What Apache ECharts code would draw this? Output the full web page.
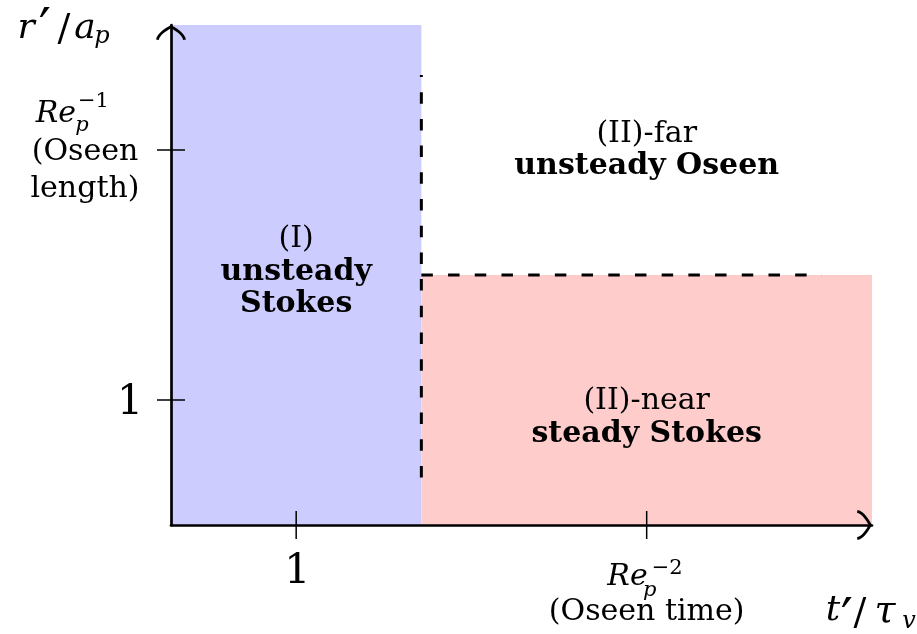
<!DOCTYPE html>
<html>
<head>
<meta charset="utf-8">
<script src="https://cdn.jsdelivr.net/npm/echarts@6/dist/echarts.min.js"></script>
<style>
  html, body { margin: 0; padding: 0; background: #fff; }
  #chart { width: 917px; height: 634px; }
</style>
</head>
<body>
<div id="chart"></div>
<script>
// Regime map of the flow around a particle: time t'/tau_v against distance r'/a_p.

// Axis extents (schematic units)
const timeMax = 5.6;
const distMax = 4;

// Tick values and their labels
const xTickValues = [1, 3.8];
const yTickValues = [1, 3];

// Shaded regimes: time range [t0, t1] and distance range [r0, r1]
const regionNames = ['(I)', '(II)-near'];
const regionT0 = [0, 2];
const regionT1 = [2, 5.6];
const regionR0 = [0, 0];
const regionR1 = [4, 2];

// Dashed boundaries between regimes
const boundaryVertical = [[2, 0.38], [2, 3.6]];
const boundaryHorizontal = [[2, 2], [5.2, 2]];

// Regime captions: title line, bold description lines, anchor in data space
const captionTitles = ['(I)', '(II)-far', '(II)-near'];
const captionLines = [['unsteady', 'Stokes'], ['unsteady Oseen'], ['steady Stokes']];
const captionT = [1, 3.8, 3.8];
const captionR = [2.284, 3.128, 0.988];

// ---- styling ----
const regionColors = ['#ccccff', '#ffcccc'];
const SERIF = '"DejaVu Serif", serif';
// open, slightly curved arrow head pointing up (rotated by the axis)
const ARROW = 'path://M60 0 C40 12 6 30 0 58 L11 60 C16 38 42 24 60 13 C78 24 104 38 109 60 L120 58 C114 30 80 12 60 0 Z';

function txt(x, y, text, size, o) {
  o = o || {};
  return {
    type: 'text',
    x: x, y: y,
    style: {
      text: text,
      fontFamily: SERIF,
      fontSize: size,
      fontWeight: o.bold ? 'bold' : 'normal',
      fontStyle: o.italic ? 'italic' : 'normal',
      fill: '#000',
      align: o.align || 'center',
      verticalAlign: 'middle'
    }
  };
}

const axisCommon = {
  type: 'value',
  z: 10,
  splitLine: { show: false },
  axisTick: { show: false },
  axisLabel: { show: false },
  axisLine: {
    show: true,
    symbol: ['none', ARROW],
    symbolSize: [30, 15],
    symbolOffset: [0, -7.5],
    lineStyle: { color: '#000', width: 2.7 }
  }
};

const dashStyle = { color: '#000', width: 3, type: [11.5, 15.2], cap: 'butt' };

const chart = echarts.init(document.getElementById('chart'), null, { renderer: 'canvas' });

chart.setOption({
  backgroundColor: '#fff',
  animation: false,
  grid: { left: 171, top: 25, width: 701, height: 500, containLabel: false },
  xAxis: Object.assign({}, axisCommon, { min: 0, max: timeMax }),
  yAxis: Object.assign({}, axisCommon, { min: 0, max: distMax }),
  series: [
    {
      // shaded regimes
      type: 'custom',
      z: 1,
      silent: true,
      clip: false,
      data: regionNames.map((n, i) => [regionT0[i], regionT1[i], regionR0[i], regionR1[i]]),
      renderItem: function (params, api) {
        const p0 = api.coord([api.value(0), api.value(3)]);
        const p1 = api.coord([api.value(1), api.value(2)]);
        return {
          type: 'rect',
          shape: { x: p0[0], y: p0[1], width: p1[0] - p0[0], height: p1[1] - p0[1] },
          style: { fill: regionColors[params.dataIndex] }
        };
      }
    },
    {
      type: 'line', z: 3, silent: true, symbol: 'none',
      data: boundaryVertical, lineStyle: dashStyle
    },
    {
      type: 'line', z: 3, silent: true, symbol: 'none',
      data: boundaryHorizontal, lineStyle: dashStyle
    },
    {
      // tick marks crossing both axes
      type: 'custom',
      z: 12,
      silent: true,
      clip: false,
      data: xTickValues.map(v => [v, 0]).concat(yTickValues.map(v => [v, 1])),
      renderItem: function (params, api) {
        const v = api.value(0);
        const isY = api.value(1) === 1;
        const p = isY ? api.coord([0, v]) : api.coord([v, 0]);
        const L = 14;
        const shape = isY
          ? { x1: p[0] - L, y1: p[1], x2: p[0] + L, y2: p[1] }
          : { x1: p[0], y1: p[1] - L, x2: p[0], y2: p[1] + L };
        return { type: 'line', shape: shape, style: { stroke: '#000', lineWidth: 1.5 } };
      }
    },
    {
      // tick labels, axis names and regime captions
      type: 'custom',
      z: 15,
      silent: true,
      clip: false,
      data: [[0, 0]],
      renderItem: function (params, api) {
        const kids = [];
        // y ticks
        let a = api.coord([0, yTickValues[0]]);
        kids.push(txt(a[0] - 41, a[1] + 3, '1', 41));
        a = api.coord([0, yTickValues[1]]);
        kids.push(txt(a[0] - 95, a[1] - 36, 'Re', 30, { italic: true, align: 'right' }));
        kids.push(txt(a[0] - 89, a[1] - 24, 'p', 21, { italic: true }));
        kids.push(txt(a[0] - 93, a[1] - 48, '\u22121', 21, { align: 'left' }));
        kids.push(txt(a[0] - 86, a[1] + 2, '(Oseen', 30));
        kids.push(txt(a[0] - 86, a[1] + 39, 'length)', 30));
        // x ticks
        a = api.coord([xTickValues[0], 0]);
        kids.push(txt(a[0] + 1, a[1] + 47, '1', 41));
        a = api.coord([xTickValues[1], 0]);
        kids.push(txt(a[0] + 1, a[1] + 52, 'Re', 30, { italic: true, align: 'right' }));
        kids.push(txt(a[0] + 3, a[1] + 66, 'p', 21, { italic: true }));
        kids.push(txt(a[0] + 5, a[1] + 44, '\u22122', 21, { align: 'left' }));
        kids.push(txt(a[0], a[1] + 87, '(Oseen time)', 30));
        // axis names
        a = api.coord([0, distMax]);
        kids.push(txt(a[0] - 145, a[1] + 4, 'r', 36, { italic: true }));
        kids.push(txt(a[0] - 126, a[1] + 8, '\u2032', 54));
        kids.push(txt(a[0] - 107, a[1] + 5, '/', 38));
        kids.push(txt(a[0] - 86, a[1] + 4, 'a', 36, { italic: true }));
        kids.push(txt(a[0] - 69, a[1] + 12, 'p', 24, { italic: true }));
        a = api.coord([timeMax, 0]);
        kids.push(txt(a[0] - 39, a[1] + 86, 't', 36, { italic: true }));
        kids.push(txt(a[0] - 25, a[1] + 98, '\u2032', 54));
        kids.push(txt(a[0] - 12, a[1] + 89, '/', 38));
        kids.push(txt(a[0] + 13, a[1] + 87, '\u03c4', 38, { italic: true }));
        kids.push(txt(a[0] + 37, a[1] + 97, 'v', 24, { italic: true }));
        // regime captions
        captionTitles.forEach(function (t, i) {
          const c = api.coord([captionT[i], captionR[i]]);
          kids.push(txt(c[0], c[1], t, 30));
          captionLines[i].forEach(function (line, j) {
            kids.push(txt(c[0], c[1] + 32.5 * (j + 1), line, 30, { bold: true }));
          });
        });
        return { type: 'group', children: kids };
      }
    }
  ]
});
</script>
</body>
</html>
